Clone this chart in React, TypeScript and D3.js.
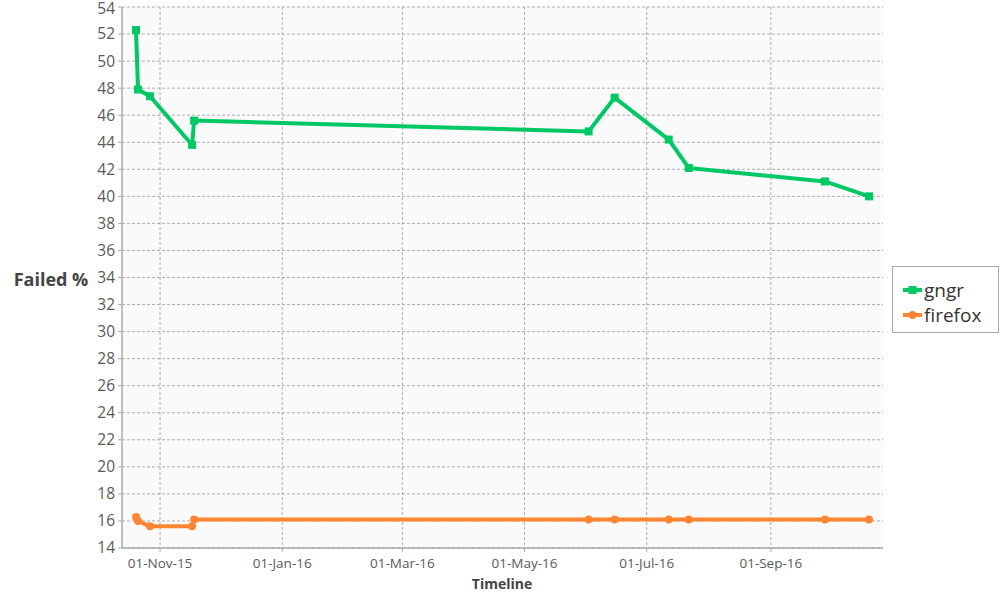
import React from 'react';
import * as d3 from 'd3';

// run dates (both browsers measured on the same days)
const runDates = [
  '2015-10-20', '2015-10-21', '2015-10-27', '2015-11-17', '2015-11-18',
  '2016-06-02', '2016-06-15', '2016-07-12', '2016-07-22', '2016-09-28', '2016-10-20',
];
const gngrFailed = [52.3, 47.9, 47.4, 43.8, 45.6, 44.8, 47.3, 44.2, 42.1, 41.1, 40.0];
const firefoxFailed = [16.3, 16.0, 15.6, 15.6, 16.1, 16.1, 16.1, 16.1, 16.1, 16.1, 16.1];
const xTickDates = ['2015-11-01', '2016-01-01', '2016-03-01', '2016-05-01', '2016-07-01', '2016-09-01'];
const yTicks = d3.range(14, 55, 2);

const series = [
  { name: 'gngr', color: '#00c864', values: gngrFailed, marker: 'square' },
  { name: 'firefox', color: '#ff8533', values: firefoxFailed, marker: 'circle' },
];

const W = 1000;
const H = 600;
const plot = { left: 122, right: 883, top: 7, bottom: 548 };
const font = '"Open Sans", "DejaVu Sans", sans-serif';

const parse = d3.utcParse('%Y-%m-%d');
const fmt = d3.utcFormat('%d-%b-%y');

const App: React.FC = () => {
  const dates = runDates.map(d => parse(d) as Date);
  const x = d3
    .scaleUtc()
    .domain([parse('2015-10-13') as Date, parse('2016-10-27') as Date])
    .range([plot.left, plot.right]);
  const y = d3.scaleLinear().domain([14, 54]).range([plot.bottom, plot.top]);
  const xTicks = xTickDates.map(d => parse(d) as Date);

  const line = d3
    .line<number>()
    .x((_, i) => x(dates[i]))
    .y(v => y(v));

  return (
    <svg width={W} height={H} style={{ position: 'absolute', left: 0, top: 0 }}>
      <rect x={plot.left} y={plot.top} width={plot.right - plot.left} height={plot.bottom - plot.top} fill="#fafafa" />
      {/* grid */}
      {yTicks.map(t => (
        <line key={'gy' + t} x1={plot.left} x2={plot.right} y1={y(t)} y2={y(t)} stroke="#9a9a9a" strokeWidth={0.8} strokeDasharray="3,2" />
      ))}
      {xTicks.map(t => (
        <line key={'gx' + t.getTime()} x1={x(t)} x2={x(t)} y1={plot.top} y2={plot.bottom} stroke="#9a9a9a" strokeWidth={0.8} strokeDasharray="3,2" />
      ))}
      {/* axes */}
      <line x1={plot.left} x2={plot.left} y1={plot.top} y2={plot.bottom} stroke="#aaa" strokeWidth={1.5} />
      <line x1={plot.left} x2={plot.right} y1={plot.bottom} y2={plot.bottom} stroke="#aaa" strokeWidth={1.5} />
      {yTicks.map(t => (
        <g key={'ty' + t}>
          <line x1={plot.left - 4} x2={plot.left} y1={y(t)} y2={y(t)} stroke="#aaa" />
          <text x={plot.left - 7} y={Math.max(y(t), 9)} dy="0.35em" textAnchor="end" fontFamily={font} fontSize={15.5} fill="#5a5a5a">
            {t}
          </text>
        </g>
      ))}
      {xTicks.map(t => (
        <g key={'tx' + t.getTime()}>
          <line x1={x(t)} x2={x(t)} y1={plot.bottom} y2={plot.bottom + 4} stroke="#aaa" />
          <text x={x(t)} y={plot.bottom + 20} textAnchor="middle" fontFamily={font} fontSize={13.5} fill="#5a5a5a">
            {fmt(t)}
          </text>
        </g>
      ))}
      <text x={502} y={589} textAnchor="middle" fontFamily={font} fontSize={14} fontWeight="bold" fill="#444">
        Timeline
      </text>
      <text x={51} y={286} textAnchor="middle" fontFamily={font} fontSize={18} fontWeight="bold" fill="#444">
        Failed %
      </text>
      {/* series */}
      {series.map(s => (
        <g key={s.name}>
          <path d={line(s.values) || ''} fill="none" stroke={s.color} strokeWidth={4} strokeLinejoin="round" />
          {s.values.map((v, i) =>
            s.marker === 'square' ? (
              <rect key={i} x={x(dates[i]) - 4} y={y(v) - 4} width={8} height={8} fill={s.color} />
            ) : (
              <circle key={i} cx={x(dates[i])} cy={y(v)} r={4} fill={s.color} />
            )
          )}
        </g>
      ))}
      {/* legend */}
      <rect x={892.5} y={266.5} width={106} height={66} fill="#fff" stroke="#aaa" />
      {series.map((s, i) => {
        const ly = 290 + i * 25;
        return (
          <g key={'lg' + s.name}>
            <line x1={903} x2={922} y1={ly} y2={ly} stroke={s.color} strokeWidth={4} />
            {s.marker === 'square' ? (
              <rect x={908.5} y={ly - 4} width={8} height={8} fill={s.color} />
            ) : (
              <circle cx={912.5} cy={ly} r={4} fill={s.color} />
            )}
            <text x={924} y={ly} dy="0.35em" fontFamily={font} fontSize={19} fill="#333">
              {s.name}
            </text>
          </g>
        );
      })}
    </svg>
  );
};

export default App;
